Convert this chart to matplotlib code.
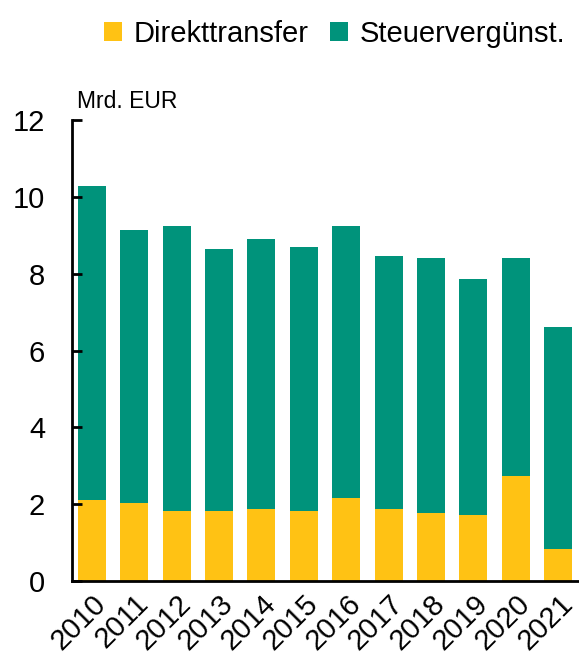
import numpy as np
import matplotlib
matplotlib.use('Agg')
from matplotlib import pyplot as plt

years = ['2010', '2011', '2012', '2013', '2014', '2015',
         '2016', '2017', '2018', '2019', '2020', '2021']
direkt = [2.11, 2.04, 1.82, 1.82, 1.87, 1.82, 2.16, 1.87, 1.76, 1.71, 2.73, 0.83]
total = [10.29, 9.14, 9.24, 8.64, 8.91, 8.69, 9.25, 8.47, 8.40, 7.85, 8.40, 6.61]
steuer = [t - d for t, d in zip(total, direkt)]

c_yel = '#FFC214'
c_teal = '#00937B'

plt.rcParams['font.family'] = ['Liberation Sans', 'DejaVu Sans']

fig = plt.figure(figsize=(5.79, 6.59), dpi=100)
ax = fig.add_axes([71.5 / 579, 78 / 659, 508 / 579, 461 / 659])

x = np.arange(len(years))
ax.bar(x, direkt, width=0.66, color=c_yel, label='Direkttransfer')
ax.bar(x, steuer, width=0.66, bottom=direkt, color=c_teal, label='Steuervergünst.')

ax.set_ylim(0, 12)
ax.set_xlim(-0.48, 11.5)
ax.set_yticks(range(0, 13, 2))
ax.set_xticks(x)
ax.set_xticklabels(years, rotation=45, ha='right', rotation_mode='anchor')

for s in ['top', 'right']:
    ax.spines[s].set_visible(False)
ax.spines['left'].set_linewidth(2)
ax.spines['bottom'].set_linewidth(2)
ax.tick_params(axis='y', direction='in', length=7, width=2, labelsize=21, pad=19)
ax.tick_params(axis='x', length=0, labelsize=21, pad=6)

fig.text(77 / 579, 1 - 108 / 659, 'Mrd. EUR', fontsize=16.5, va='baseline')

fig.legend(loc='upper center', bbox_to_anchor=(0.578, 1.01), ncol=2, frameon=False,
           fontsize=21, handlelength=0.62, handleheight=0.62, handletextpad=0.4,
           columnspacing=0.75)

fig.savefig('out.png', dpi=100)
